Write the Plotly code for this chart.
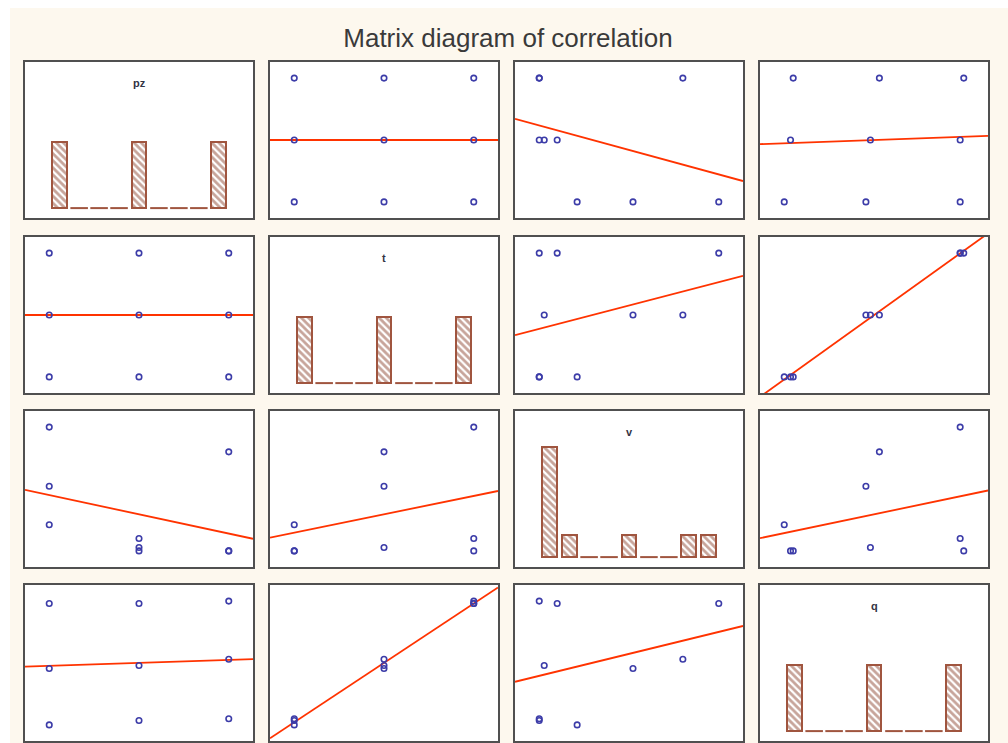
import numpy as np
import plotly.graph_objects as go

# Nine runs of a three-level plan; v and q are measured responses
pz = [1, 1, 1, 2, 2, 2, 3, 3, 3]
t = [1, 2, 3, 1, 2, 3, 1, 2, 3]
v = [2.9, 5.7, 10.0, 1.0, 1.25, 1.9, 1.0, 8.2, 1.0]
q = [1.00, 1.91, 2.96, 1.07, 1.96, 2.96, 1.10, 2.06, 3.00]

var_names = ["pz", "t", "v", "q"]
var_data = [pz, t, v, q]
n_bins = 9

W, H = 1008, 743
col_left = [25, 270, 515, 760]
row_top = [62, 237, 411, 585]
cell_w, cell_h = 228, 156

BG = "#fdf8ee"
FRAME = "#505050"
BROWN = "#a0553f"
HATCH = "#8f4a35"
DOT = "#3c3ca8"
RED = "#ff3300"

PAD_X, PAD_Y = 0.135, 0.13


def padded(vals, p):
    lo, hi = min(vals), max(vals)
    s = hi - lo
    return [lo - p * s, hi + p * s]


fig = go.Figure()
axis_style = dict(showgrid=False, zeroline=False, showticklabels=False, ticks="",
                  showline=True, mirror=True, linecolor=FRAME, linewidth=2)

for i in range(4):
    for j in range(4):
        k = i * 4 + j + 1
        xa = "x" if k == 1 else f"x{k}"
        ya = "y" if k == 1 else f"y{k}"
        xd = [col_left[j] / W, (col_left[j] + cell_w) / W]
        yd = [1 - (row_top[i] + cell_h) / H, 1 - row_top[i] / H]
        xr = padded(var_data[j], PAD_X)
        xkey = "xaxis" if k == 1 else f"xaxis{k}"
        ykey = "yaxis" if k == 1 else f"yaxis{k}"

        if i == j:
            data = np.array(var_data[j], dtype=float)
            counts, edges = np.histogram(data, bins=n_bins, range=(data.min(), data.max()))
            bw = edges[1] - edges[0]
            centers = (edges[:-1] + edges[1:]) / 2
            filled = counts > 0
            fig.add_trace(go.Bar(
                x=centers[filled], y=counts[filled], width=0.75 * bw,
                marker=dict(color="white", line=dict(color=BROWN, width=2),
                            pattern=dict(shape="\\", fgcolor=HATCH, bgcolor="white",
                                         size=5, solidity=0.55)),
                xaxis=xa, yaxis=ya, showlegend=False, hoverinfo="skip"))
            # empty bins shown as a short stroke on the baseline
            dx, dy = [], []
            for c, e0, e1 in zip(counts, edges[:-1], edges[1:]):
                if c == 0:
                    dx += [e0 + 0.06 * bw, e1 - 0.06 * bw, None]
                    dy += [0, 0, None]
            if dx:
                fig.add_trace(go.Scatter(x=dx, y=dy, mode="lines",
                                         line=dict(color=BROWN, width=2),
                                         xaxis=xa, yaxis=ya, showlegend=False,
                                         hoverinfo="skip"))
            yr = [-0.45, 6.64]
            fig.add_annotation(text=f"<b>{var_names[j]}</b>", x=0.5, y=1 - 21 / cell_h,
                               xref=f"{xa} domain", yref=f"{ya} domain",
                               showarrow=False, font=dict(size=11, color="#333344",
                                                          family="Liberation Sans, Arial"),
                               yanchor="middle")
        else:
            xs = np.array(var_data[j], dtype=float)
            ys = np.array(var_data[i], dtype=float)
            yr = padded(var_data[i], PAD_Y)
            slope, icpt = np.polyfit(xs, ys, 1)
            lx = np.array(xr)
            fig.add_trace(go.Scatter(x=lx, y=slope * lx + icpt, mode="lines",
                                     line=dict(color=RED, width=1.8),
                                     xaxis=xa, yaxis=ya, showlegend=False,
                                     hoverinfo="skip"))
            fig.add_trace(go.Scatter(x=xs, y=ys, mode="markers",
                                     marker=dict(symbol="circle-open", size=5.5,
                                                 color=DOT, line=dict(width=1.6, color=DOT)),
                                     xaxis=xa, yaxis=ya, showlegend=False,
                                     hoverinfo="skip"))

        fig.layout[xkey] = dict(domain=xd, range=xr, anchor=ya, **axis_style)
        fig.layout[ykey] = dict(domain=yd, range=yr, anchor=xa, **axis_style)

# white strips along the left and top edges of the beige canvas
fig.add_shape(type="rect", xref="paper", yref="paper", x0=0, x1=10 / W, y0=0, y1=1,
              fillcolor="white", line=dict(width=0), layer="below")
fig.add_shape(type="rect", xref="paper", yref="paper", x0=0, x1=1, y0=1 - 8 / H, y1=1,
              fillcolor="white", line=dict(width=0), layer="below")

fig.update_layout(
    width=W, height=H,
    margin=dict(l=0, r=0, t=0, b=0),
    paper_bgcolor=BG, plot_bgcolor="white",
    bargap=0,
    title=dict(text="Matrix diagram of correlation", x=508 / W, xanchor="center",
               y=1 - 38 / H, yanchor="middle",
               font=dict(family="Liberation Sans Narrow, Arial Narrow, Liberation Sans, Arial",
                         size=26, color="#3a3a3a")),
)

fig.write_html("out.html")
